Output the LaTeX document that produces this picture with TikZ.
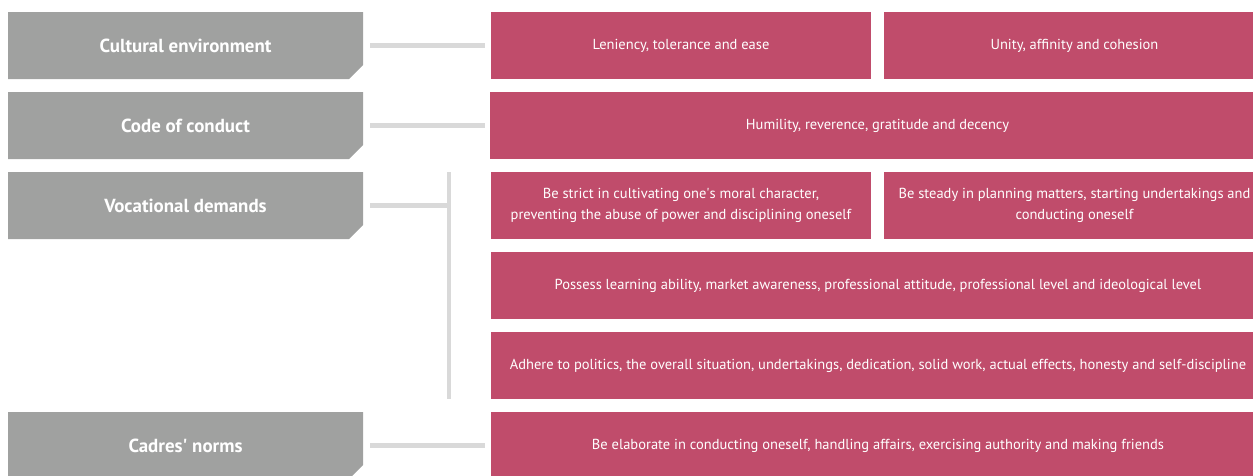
\documentclass[tikz,border=0pt]{standalone}
\usepackage{fontspec}
\setmainfont{PT Sans}
\definecolor{boxgray}{HTML}{A0A1A0}
\definecolor{boxpink}{HTML}{C04C6B}
\definecolor{linegray}{HTML}{D9D9D9}
\tikzset{
  graybox/.style={minimum width=355pt, minimum height=67pt, inner sep=0pt,
    text=white, font=\bfseries\fontsize{18.9}{22}\selectfont,
    path picture={\fill[boxgray] (path picture bounding box.north west)
      -| ([yshift=14pt]path picture bounding box.south east)
      -- ([xshift=-14pt]path picture bounding box.south east)
      -| cycle;}},
  pinkbox/.style={fill=boxpink, text=white, minimum height=67pt, inner sep=0pt,
    align=center, font=\fontsize{14.5}{20.5}\selectfont},
  link/.style={draw=linegray, line width=4.5pt}
}
\begin{document}
\begin{tikzpicture}[x=1pt,y=-1pt]
  \clip (0,0) rectangle (1253,475);
  % left column
  \node[graybox] (cult) at (185.5,45.5) {Cultural environment};
  \node[graybox] (code) at (185.5,125.5) {Code of conduct};
  \node[graybox] (voc) at (185.5,205.5) {Vocational demands};
  \node[graybox] (cadre) at (185.5,445.5) {Cadres\textquotesingle{} norms};
  % right column
  \node[pinkbox, minimum width=380pt] (lenient) at (681,45.5) {Leniency, tolerance and ease};
  \node[pinkbox, minimum width=381pt] (unity) at (1074.5,45.5) {Unity, affinity and cohesion};
  \node[pinkbox, minimum width=775pt] (humil) at (877.5,125.5) {Humility, reverence, gratitude and decency};
  \node[pinkbox, minimum width=380pt] (strict) at (681,205.5) {Be strict in cultivating one\textquotesingle s moral character,\\preventing the abuse of power and disciplining oneself};
  \node[pinkbox, minimum width=381pt] (steady) at (1074.5,205.5) {Be steady in planning matters, starting undertakings and\\conducting oneself};
  \node[pinkbox, minimum width=774pt] (learn) at (878,285.5) {Possess learning ability, market awareness, professional attitude, professional level and ideological level};
  \node[pinkbox, minimum width=774pt] (adhere) at (878,365.5) {Adhere to politics, the overall situation, undertakings, dedication, solid work, actual effects, honesty and self-discipline};
  \node[pinkbox, minimum width=774pt] (elab) at (878,445.5) {Be elaborate in conducting oneself, handling affairs, exercising authority and making friends};
  % connectors
  \draw[link] ([xshift=7pt]cult.east) -- ([xshift=-6pt]lenient.west);
  \draw[link] ([xshift=7pt]code.east) -- ([xshift=-5pt]humil.west);
  \draw[link] ([xshift=7pt]cadre.east) -- ([xshift=-6pt]elab.west);
  \coordinate (bartop) at (449,172);
  \coordinate (barbot) at (449,399);
  \draw[link] (bartop) -- (barbot);
  \draw[link] ([xshift=7pt]voc.east) -- (voc.east -| bartop);
\end{tikzpicture}
\end{document}
